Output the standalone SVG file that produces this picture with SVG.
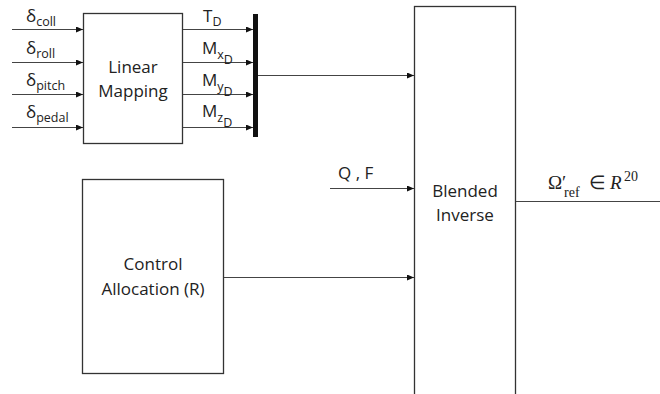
<svg xmlns="http://www.w3.org/2000/svg" width="660" height="394" viewBox="0 0 660 394">
<defs>
<marker id="arr" markerUnits="userSpaceOnUse" markerWidth="7" markerHeight="6" refX="7" refY="3" orient="auto">
<path d="M0,0 L7,3 L0,6 z" fill="#111"/>
</marker>
<style>
.box{fill:#fff;stroke:#333;stroke-width:1.3}
.ln{stroke:#444;stroke-width:1;fill:none}
.t{font-family:"Open Sans","Noto Sans",sans-serif;font-size:17px;fill:#222}
.c{text-anchor:middle}
.s{font-size:12.5px}
.m{font-family:"Liberation Serif",serif;font-size:19px;fill:#222}
.ms{font-family:"Liberation Serif",serif;font-size:14px;fill:#222}
</style>
</defs>
<rect width="660" height="394" fill="#fff"/>
<g id="linear-mapping">
<rect class="box" x="83.5" y="13.5" width="99" height="130"/>
<text class="t c" x="133" y="73">Linear</text>
<text class="t c" x="133" y="97">Mapping</text>
</g>
<g id="bus">
<rect x="253" y="14" width="5" height="123" fill="#111"/>
</g>
<g id="control-allocation">
<rect class="box" x="82.5" y="179.5" width="141" height="194"/>
<text class="t c" x="153" y="270">Control</text>
<text class="t c" x="153" y="295">Allocation (R)</text>
</g>
<g id="blended-inverse">
<rect class="box" x="414.5" y="6.5" width="101" height="400"/>
<text class="t c" x="465" y="197">Blended</text>
<text class="t c" x="465" y="221">Inverse</text>
</g>
<g id="connectors">
<line class="ln" x1="12" y1="29.5" x2="83" y2="29.5" marker-end="url(#arr)"/>
<line class="ln" x1="12" y1="62.5" x2="83" y2="62.5" marker-end="url(#arr)"/>
<line class="ln" x1="12" y1="94.5" x2="83" y2="94.5" marker-end="url(#arr)"/>
<line class="ln" x1="12" y1="127.5" x2="83" y2="127.5" marker-end="url(#arr)"/>
<line class="ln" x1="183" y1="29.5" x2="253" y2="29.5" marker-end="url(#arr)"/>
<line class="ln" x1="183" y1="62.5" x2="253" y2="62.5" marker-end="url(#arr)"/>
<line class="ln" x1="183" y1="94.5" x2="253" y2="94.5" marker-end="url(#arr)"/>
<line class="ln" x1="183" y1="127.5" x2="253" y2="127.5" marker-end="url(#arr)"/>
<line class="ln" x1="258" y1="75.5" x2="414" y2="75.5" marker-end="url(#arr)"/>
<line class="ln" x1="330" y1="188.5" x2="414" y2="188.5" marker-end="url(#arr)"/>
<line class="ln" x1="224" y1="277.5" x2="414" y2="277.5" marker-end="url(#arr)"/>
<line class="ln" x1="516" y1="201.5" x2="660" y2="201.5"/>
</g>
<g id="labels">
<text class="t" x="26" y="22" font-size="18">δ<tspan class="s" dy="4">coll</tspan></text>
<text class="t" x="26" y="54" font-size="18">δ<tspan class="s" dy="4">roll</tspan></text>
<text class="t" x="26" y="86" font-size="18">δ<tspan class="s" dy="4">pitch</tspan></text>
<text class="t" x="26" y="118" font-size="18">δ<tspan class="s" dy="4">pedal</tspan></text>
<text class="t" x="203" y="22">T<tspan class="s" dy="4">D</tspan></text>
<text class="t" x="202" y="54">M<tspan class="s" dy="5">x</tspan><tspan class="s" dy="5">D</tspan></text>
<text class="t" x="202" y="86">M<tspan class="s" dy="5">y</tspan><tspan class="s" dy="5">D</tspan></text>
<text class="t" x="202" y="117">M<tspan class="s" dy="5">z</tspan><tspan class="s" dy="5">D</tspan></text>
<text class="t" x="338" y="179">Q , F</text>
<text class="m" x="548" y="189">Ω′</text>
<text class="ms" x="564" y="197">ref</text>
<text class="m" x="589" y="189">∈</text>
<text class="m" x="610" y="189" font-style="italic">R</text>
<text class="ms" x="624" y="181">20</text>
</g>
</svg>
